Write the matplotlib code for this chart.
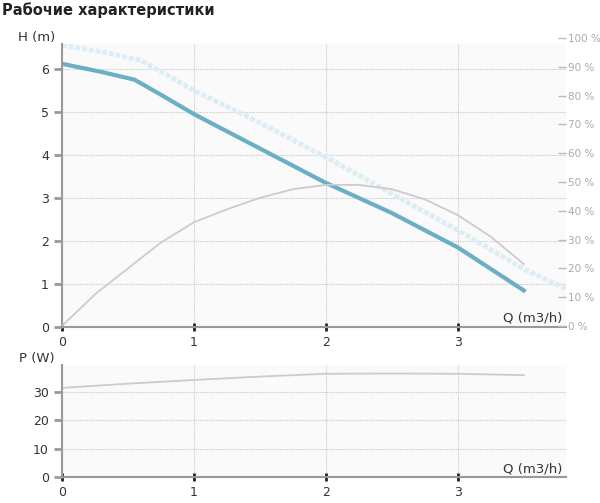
import matplotlib
matplotlib.use("Agg")
import matplotlib.pyplot as plt
import numpy as np

q_h = [0, 0.3, 0.55, 0.75, 1.0, 1.5, 2.0, 2.5, 3.0, 3.5]
h_main = [6.12, 5.93, 5.75, 5.4, 4.95, 4.15, 3.35, 2.65, 1.85, 0.85]
q_h2 = [0, 0.3, 0.6, 0.8, 1.0, 1.5, 2.0, 2.5, 3.0, 3.5, 3.85]
h_max = [6.55, 6.4, 6.2, 5.85, 5.5, 4.75, 3.95, 3.1, 2.25, 1.35, 0.85]
q_eff = [0, 0.25, 0.5, 0.75, 1.0, 1.25, 1.5, 1.75, 2.0, 2.25, 2.5, 2.75, 3.0, 3.25, 3.5]
eff = [0, 11, 20, 29, 36, 40.5, 44.5, 47.5, 49, 49, 47.5, 44, 38.5, 31, 21.5]
q_p = [0, 0.5, 1.0, 1.5, 2.0, 2.5, 3.0, 3.5]
p = [31.5, 33.0, 34.3, 35.5, 36.5, 36.6, 36.5, 36.0]

fig = plt.figure(figsize=(6, 5.03), dpi=100)
W, H = 600, 503
def ax_at(l, t, r, b):
    return fig.add_axes([l / W, 1 - b / H, (r - l) / W, (b - t) / H])

grid_kw = dict(color="#c8c8c8", linestyle=(0, (1, 1)), linewidth=0.8)
tc = "#333333"

ax = ax_at(62, 44, 566, 327)
ax.set_facecolor("#fafafa")
ax.set_xlim(0, 3.82)
ax.set_ylim(0, 6.58)
ax.plot(q_h2, h_max, color="#dcedf4", lw=3.5, ls=(0, (1, 0.4)), solid_capstyle="butt")
ax.plot(q_h, h_main, color="#6aafc6", lw=3)
ax.set_xticks([0, 1, 2, 3])
ax.set_yticks(range(7))
ax.grid(True, **grid_kw)
for s in ["top", "right"]:
    ax.spines[s].set_visible(False)
for s in ["left", "bottom"]:
    ax.spines[s].set_color("#999999")
    ax.spines[s].set_linewidth(1.5)
ax.tick_params(axis="y", length=6, width=2, color="#999999", labelsize=9, labelcolor=tc)
ax.tick_params(axis="x", length=6, width=2, color="#222222", labelsize=9, labelcolor=tc, direction="inout")
ax.text(-0.05, 1.0, "H (m)", transform=ax.transAxes, fontsize=9.5, color=tc, ha="center", va="bottom")
ax.text(3.57, 0.05, "Q (m3/h)", fontsize=9.5, color=tc, ha="center", va="bottom")

ax2 = ax_at(62, 38, 558, 326)
ax2.patch.set_visible(False)
ax2.set_xlim(0, 3.82 * 496 / 504)
ax2.set_ylim(0, 100)
ax2.set_xticks([])
ax2.plot(q_eff, eff, color="#cccccc", lw=1.3)
ax2.yaxis.tick_right()
ax2.set_yticks(range(0, 101, 10))
ax2.set_yticklabels([f"{v} %" for v in range(0, 101, 10)])
for s in ["top", "right", "left", "bottom"]:
    ax2.spines[s].set_visible(False)
ax2.tick_params(axis="y", length=6, width=1, color="#bbbbbb", labelsize=7.5, labelcolor="#aaaaaa", pad=1)

bx = ax_at(62, 365, 566, 477)
bx.set_facecolor("#fafafa")
bx.set_xlim(0, 3.82)
bx.set_ylim(0, 39.6)
bx.plot(q_p, p, color="#cccccc", lw=1.3)
bx.set_xticks([0, 1, 2, 3])
bx.set_yticks([0, 10, 20, 30])
bx.grid(True, **grid_kw)
for s in ["top", "right"]:
    bx.spines[s].set_visible(False)
for s in ["left", "bottom"]:
    bx.spines[s].set_color("#999999")
    bx.spines[s].set_linewidth(1.5)
bx.tick_params(axis="y", length=6, width=2, color="#999999", labelsize=9, labelcolor=tc)
bx.tick_params(axis="x", length=6, width=2, color="#222222", labelsize=9, labelcolor=tc, direction="inout")
bx.text(-0.05, 1.0, "P (W)", transform=bx.transAxes, fontsize=9.5, color=tc, ha="center", va="bottom")
bx.text(3.57, 0.5, "Q (m3/h)", fontsize=9.5, color=tc, ha="center", va="bottom")

fig.text(2 / W, 1 - 2 / H, "Рабочие характеристики", fontsize=10.5, fontweight="bold", color="#222222", ha="left", va="top")

fig.savefig("out.png", dpi=100, facecolor="white")
